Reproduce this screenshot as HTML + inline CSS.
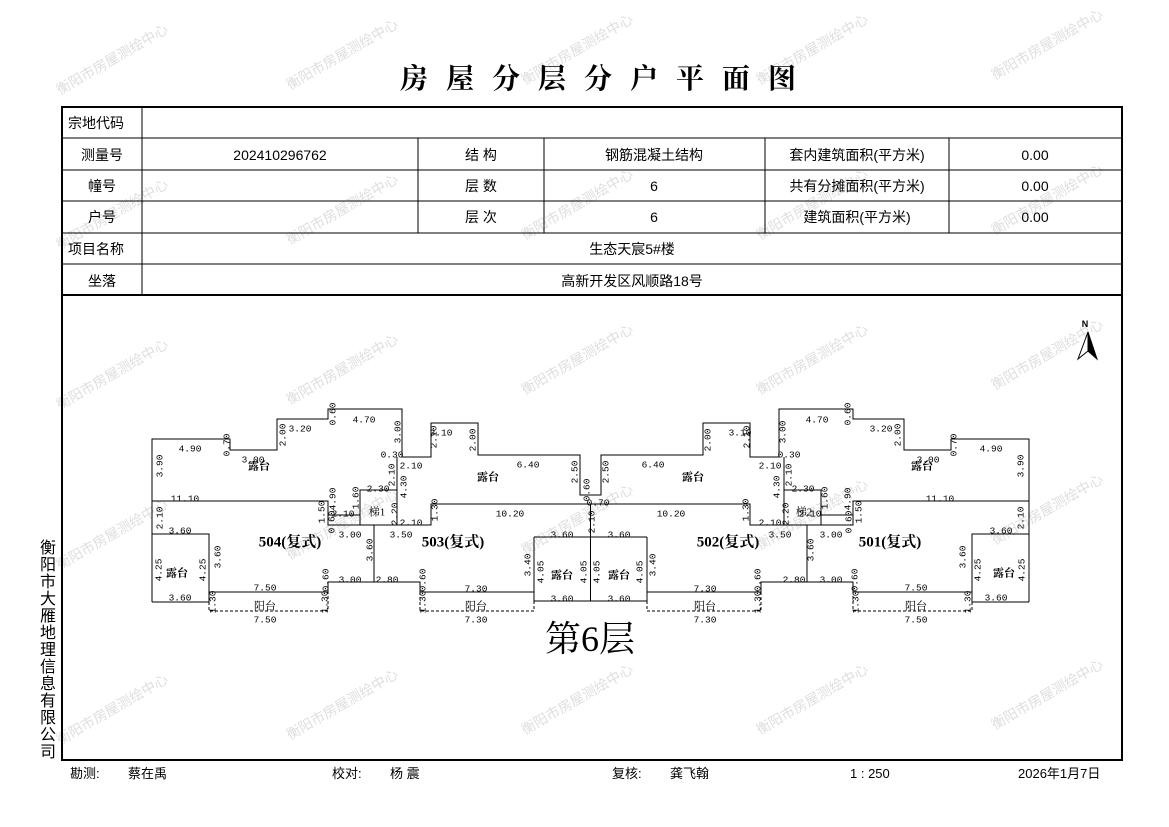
<!DOCTYPE html>
<html><head><meta charset="utf-8"><style>
body{margin:0;background:#fff}
svg{display:block}
.t{font-family:"Liberation Sans","Noto Sans CJK SC",sans-serif;font-size:14px;fill:#000}
.d{font-family:"Liberation Mono","Noto Sans CJK SC",monospace;font-size:9.5px;fill:#000;text-anchor:middle;dominant-baseline:middle}
.b{font-family:"Liberation Serif","Noto Serif CJK SC",serif;font-size:11px;font-weight:bold;fill:#000;text-anchor:middle;dominant-baseline:middle}
.u{font-family:"Liberation Serif","Noto Serif CJK SC",serif;font-size:15px;font-weight:bold;fill:#000;text-anchor:middle;dominant-baseline:middle}
.w{font-family:"Liberation Sans","Noto Sans CJK SC",sans-serif;font-size:14px;fill:#dedede}
.c{text-anchor:middle}
</style></head><body>
<svg width="1169" height="827" viewBox="0 0 1169 827" xmlns="http://www.w3.org/2000/svg">
<rect width="1169" height="827" fill="#fff"/>
<g class="w">
<text transform="translate(60,95) rotate(-30)">衡阳市房屋测绘中心</text>
<text transform="translate(290,90) rotate(-30)">衡阳市房屋测绘中心</text>
<text transform="translate(525,85) rotate(-30)">衡阳市房屋测绘中心</text>
<text transform="translate(760,85) rotate(-30)">衡阳市房屋测绘中心</text>
<text transform="translate(995,80) rotate(-30)">衡阳市房屋测绘中心</text>
<text transform="translate(60,250) rotate(-30)">衡阳市房屋测绘中心</text>
<text transform="translate(290,245) rotate(-30)">衡阳市房屋测绘中心</text>
<text transform="translate(525,240) rotate(-30)">衡阳市房屋测绘中心</text>
<text transform="translate(760,240) rotate(-30)">衡阳市房屋测绘中心</text>
<text transform="translate(995,235) rotate(-30)">衡阳市房屋测绘中心</text>
<text transform="translate(60,410) rotate(-30)">衡阳市房屋测绘中心</text>
<text transform="translate(290,405) rotate(-30)">衡阳市房屋测绘中心</text>
<text transform="translate(525,395) rotate(-30)">衡阳市房屋测绘中心</text>
<text transform="translate(760,395) rotate(-30)">衡阳市房屋测绘中心</text>
<text transform="translate(995,390) rotate(-30)">衡阳市房屋测绘中心</text>
<text transform="translate(60,570) rotate(-30)">衡阳市房屋测绘中心</text>
<text transform="translate(290,560) rotate(-30)">衡阳市房屋测绘中心</text>
<text transform="translate(525,555) rotate(-30)">衡阳市房屋测绘中心</text>
<text transform="translate(760,550) rotate(-30)">衡阳市房屋测绘中心</text>
<text transform="translate(995,545) rotate(-30)">衡阳市房屋测绘中心</text>
<text transform="translate(60,745) rotate(-30)">衡阳市房屋测绘中心</text>
<text transform="translate(290,740) rotate(-30)">衡阳市房屋测绘中心</text>
<text transform="translate(525,735) rotate(-30)">衡阳市房屋测绘中心</text>
<text transform="translate(760,735) rotate(-30)">衡阳市房屋测绘中心</text>
<text transform="translate(995,730) rotate(-30)">衡阳市房屋测绘中心</text>
</g>
<text x="607" y="88" class="c" style="font-family:'Liberation Serif','Noto Serif CJK SC',serif;font-size:28px;font-weight:bold;letter-spacing:18px">房屋分层分户平面图</text>
<g stroke="#000" fill="none">
<rect x="62" y="107" width="1060" height="653" stroke-width="2"/>
<line x1="62" y1="295" x2="1122" y2="295" stroke-width="2"/>
<g stroke-width="1">
<line x1="62" y1="138" x2="1122" y2="138"/><line x1="62" y1="170" x2="1122" y2="170"/><line x1="62" y1="201" x2="1122" y2="201"/><line x1="62" y1="233" x2="1122" y2="233"/><line x1="62" y1="264" x2="1122" y2="264"/>
<line x1="142" y1="107" x2="142" y2="295"/>
<line x1="418" y1="138" x2="418" y2="233"/><line x1="544" y1="138" x2="544" y2="233"/><line x1="765" y1="138" x2="765" y2="233"/><line x1="949" y1="138" x2="949" y2="233"/>
</g></g>
<g class="t">
<text x="68" y="128">宗地代码</text>
<text x="102" y="160" class="c">测量号</text><text x="280" y="160" class="c">202410296762</text><text x="481" y="160" class="c">结  构</text><text x="654" y="160" class="c">钢筋混凝土结构</text><text x="857" y="160" class="c">套内建筑面积(平方米)</text><text x="1035" y="160" class="c">0.00</text>
<text x="102" y="191" class="c">幢号</text><text x="481" y="191" class="c">层  数</text><text x="654" y="191" class="c">6</text><text x="857" y="191" class="c">共有分摊面积(平方米)</text><text x="1035" y="191" class="c">0.00</text>
<text x="102" y="222" class="c">户号</text><text x="481" y="222" class="c">层  次</text><text x="654" y="222" class="c">6</text><text x="857" y="222" class="c">建筑面积(平方米)</text><text x="1035" y="222" class="c">0.00</text>
<text x="68" y="254">项目名称</text><text x="632" y="254" class="c">生态天宸5#楼</text>
<text x="102" y="286" class="c">坐落</text><text x="632" y="286" class="c">高新开发区风顺路18号</text>
</g>
<g id="L" stroke="#000" stroke-width="1" fill="none">
<path d="M152,602 V439 H230 V450 H277 V419 H328 V409 H402 V457 H431 V423 H478 V455 H580 V495 H590.5"/>
<path d="M152,501 H328 V525 H431 V504 H590.5"/>
<path d="M397,457 V525 M360,525 V490 H397 M328,515 H360 M374,525 V582"/>
<path d="M152,534 H209 V592 H328 V582 H420 V592 H534 M152,602 H209 V592"/>
<path d="M534,537 H590.5 M534,537 V601 H590.5 M590.5,504 V601"/>
<path d="M209,592 V611 H328 V592 M420,592 V611 H534 V601" stroke-dasharray="3,2"/>
</g>
<use href="#L" transform="matrix(-1,0,0,1,1181,0)"/>
<g>
<text class="d" x="190" y="449">4.90</text><text class="d" x="253" y="460">3.00</text><text class="d" x="300" y="429">3.20</text><text class="d" x="364" y="420">4.70</text><text class="d" x="392" y="455">0.30</text><text class="d" x="411" y="466">2.10</text><text class="d" x="378" y="489">2.30</text><text class="d" x="185" y="499">11.10</text><text class="d" x="343" y="514">2.10</text><text class="d" x="350" y="535">3.00</text><text class="d" x="401" y="535">3.50</text><text class="d" x="411" y="523">2.10</text><text class="d" x="180" y="531">3.60</text><text class="d" x="180" y="598">3.60</text><text class="d" x="350" y="580">3.00</text><text class="d" x="387" y="580">2.80</text><text class="d" x="265" y="588">7.50</text><text class="d" x="265" y="620">7.50</text><text class="d" x="441" y="433">3.10</text><text class="d" x="528" y="465">6.40</text><text class="d" x="510" y="514">10.20</text><text class="d" x="562" y="535">3.60</text><text class="d" x="476" y="589">7.30</text><text class="d" x="562" y="599">3.60</text><text class="d" x="476" y="620">7.30</text><text class="d" x="598" y="503">0.70</text>
<text class="d" x="991" y="449">4.90</text><text class="d" x="928" y="460">3.00</text><text class="d" x="881" y="429">3.20</text><text class="d" x="817" y="420">4.70</text><text class="d" x="789" y="455">0.30</text><text class="d" x="770" y="466">2.10</text><text class="d" x="803" y="489">2.30</text><text class="d" x="940" y="499">11.10</text><text class="d" x="810" y="514">2.10</text><text class="d" x="831" y="535">3.00</text><text class="d" x="780" y="535">3.50</text><text class="d" x="770" y="523">2.10</text><text class="d" x="1001" y="531">3.60</text><text class="d" x="996" y="598">3.60</text><text class="d" x="831" y="580">3.00</text><text class="d" x="794" y="580">2.80</text><text class="d" x="916" y="588">7.50</text><text class="d" x="916" y="620">7.50</text><text class="d" x="740" y="433">3.10</text><text class="d" x="653" y="465">6.40</text><text class="d" x="671" y="514">10.20</text><text class="d" x="619" y="535">3.60</text><text class="d" x="705" y="589">7.30</text><text class="d" x="619" y="599">3.60</text><text class="d" x="705" y="620">7.30</text>
</g>
<g>
<text class="d" transform="translate(227,445) rotate(-90)">0.70</text><text class="d" transform="translate(283,435) rotate(-90)">2.00</text><text class="d" transform="translate(333,414) rotate(-90)">0.60</text><text class="d" transform="translate(398,432) rotate(-90)">3.00</text><text class="d" transform="translate(392,475) rotate(-90)">2.10</text><text class="d" transform="translate(404,487) rotate(-90)">4.30</text><text class="d" transform="translate(160,466) rotate(-90)">3.90</text><text class="d" transform="translate(333,499) rotate(-90)">4.90</text><text class="d" transform="translate(356,498) rotate(-90)">1.60</text><text class="d" transform="translate(322,512) rotate(-90)">1.50</text><text class="d" transform="translate(395,514) rotate(-90)">2.20</text><text class="d" transform="translate(332,522) rotate(-90)">0.60</text><text class="d" transform="translate(435,510) rotate(-90)">1.30</text><text class="d" transform="translate(160,518) rotate(-90)">2.10</text><text class="d" transform="translate(159,570) rotate(-90)">4.25</text><text class="d" transform="translate(203,570) rotate(-90)">4.25</text><text class="d" transform="translate(218,557) rotate(-90)">3.60</text><text class="d" transform="translate(370,550) rotate(-90)">3.60</text><text class="d" transform="translate(326,580) rotate(-90)">0.60</text><text class="d" transform="translate(423,580) rotate(-90)">0.60</text><text class="d" transform="translate(213,602) rotate(-90)">1.30</text><text class="d" transform="translate(325,602) rotate(-90)">1.30</text><text class="d" transform="translate(423,602) rotate(-90)">1.30</text><text class="d" transform="translate(434,437) rotate(-90)">2.10</text><text class="d" transform="translate(473,440) rotate(-90)">2.00</text><text class="d" transform="translate(575,472) rotate(-90)">2.50</text><text class="d" transform="translate(592,522) rotate(-90)">2.10</text><text class="d" transform="translate(528,565) rotate(-90)">3.40</text><text class="d" transform="translate(541,572) rotate(-90)">4.05</text><text class="d" transform="translate(584,572) rotate(-90)">4.05</text><text class="d" transform="translate(587,490) rotate(-90)">0.60</text>
<text class="d" transform="translate(954,445) rotate(-90)">0.70</text><text class="d" transform="translate(898,435) rotate(-90)">2.00</text><text class="d" transform="translate(848,414) rotate(-90)">0.60</text><text class="d" transform="translate(783,432) rotate(-90)">3.00</text><text class="d" transform="translate(789,475) rotate(-90)">2.10</text><text class="d" transform="translate(777,487) rotate(-90)">4.30</text><text class="d" transform="translate(1021,466) rotate(-90)">3.90</text><text class="d" transform="translate(848,499) rotate(-90)">4.90</text><text class="d" transform="translate(825,498) rotate(-90)">1.60</text><text class="d" transform="translate(859,512) rotate(-90)">1.50</text><text class="d" transform="translate(786,514) rotate(-90)">2.20</text><text class="d" transform="translate(849,522) rotate(-90)">0.60</text><text class="d" transform="translate(746,510) rotate(-90)">1.30</text><text class="d" transform="translate(1021,518) rotate(-90)">2.10</text><text class="d" transform="translate(1022,570) rotate(-90)">4.25</text><text class="d" transform="translate(978,570) rotate(-90)">4.25</text><text class="d" transform="translate(963,557) rotate(-90)">3.60</text><text class="d" transform="translate(811,550) rotate(-90)">3.60</text><text class="d" transform="translate(855,580) rotate(-90)">0.60</text><text class="d" transform="translate(758,580) rotate(-90)">0.60</text><text class="d" transform="translate(968,602) rotate(-90)">1.30</text><text class="d" transform="translate(856,602) rotate(-90)">1.30</text><text class="d" transform="translate(758,602) rotate(-90)">1.30</text><text class="d" transform="translate(747,437) rotate(-90)">2.10</text><text class="d" transform="translate(708,440) rotate(-90)">2.00</text><text class="d" transform="translate(606,472) rotate(-90)">2.50</text><text class="d" transform="translate(653,565) rotate(-90)">3.40</text><text class="d" transform="translate(640,572) rotate(-90)">4.05</text><text class="d" transform="translate(597,572) rotate(-90)">4.05</text>
</g>
<g>
<text class="b" x="259" y="467">露台</text><text class="b" x="177" y="574">露台</text><text class="b" x="488" y="478">露台</text><text class="b" x="562" y="576">露台</text>
<text class="b" x="922" y="467">露台</text><text class="b" x="1004" y="574">露台</text><text class="b" x="693" y="478">露台</text><text class="b" x="619" y="576">露台</text>
<text class="b" x="377" y="513" style="font-weight:normal">梯1</text><text class="b" x="804" y="513" style="font-weight:normal">梯2</text>
<text class="b" x="265" y="607" style="font-weight:normal">阳台</text><text class="b" x="476" y="607" style="font-weight:normal">阳台</text><text class="b" x="705" y="607" style="font-weight:normal">阳台</text><text class="b" x="916" y="607" style="font-weight:normal">阳台</text>
<text class="u" x="290" y="543">504(复式)</text><text class="u" x="453" y="543">503(复式)</text><text class="u" x="728" y="543">502(复式)</text><text class="u" x="890" y="543">501(复式)</text>
</g>
<text x="590" y="651" class="c" style="font-family:'Liberation Serif','Noto Serif CJK SC',serif;font-size:36px">第6层</text>
<text x="1085" y="327" class="c" style="font-family:'Liberation Sans',sans-serif;font-size:9px;font-weight:bold">N</text>
<path d="M1088,332 L1078,359 L1088,351 Z" fill="#fff" stroke="#000" stroke-width="1"/>
<path d="M1088,332 L1097,359 L1088,351 Z" fill="#000" stroke="#000" stroke-width="1"/>
<g class="t" style="font-size:16px">
<text x="48" y="553" class="c">衡</text><text x="48" y="570" class="c">阳</text><text x="48" y="587" class="c">市</text><text x="48" y="604" class="c">大</text><text x="48" y="621" class="c">雁</text><text x="48" y="638" class="c">地</text><text x="48" y="655" class="c">理</text><text x="48" y="672" class="c">信</text><text x="48" y="689" class="c">息</text><text x="48" y="706" class="c">有</text><text x="48" y="723" class="c">限</text><text x="48" y="740" class="c">公</text><text x="48" y="757" class="c">司</text>
</g>
<g class="t" style="font-size:13px">
<text x="70" y="778">勘测:</text><text x="128" y="778">蔡在禹</text>
<text x="332" y="778">校对:</text><text x="390" y="778">杨  震</text>
<text x="612" y="778">复核:</text><text x="670" y="778">龚飞翰</text>
<text x="850" y="778">1  :  250</text><text x="1018" y="778">2026年1月7日</text>
</g>
</svg>
</body></html>
